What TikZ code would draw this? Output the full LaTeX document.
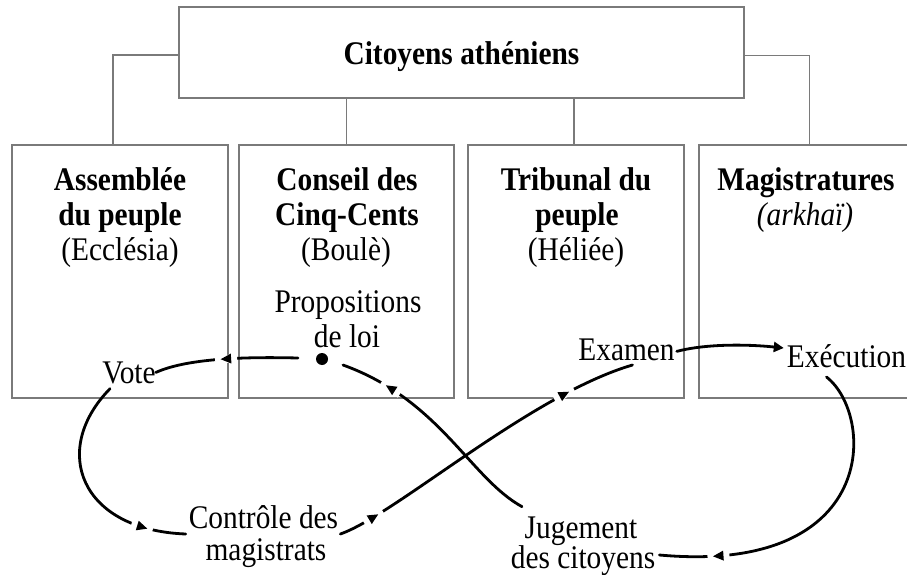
\documentclass[tikz,border=0pt]{standalone}
\usepackage{fontspec}
\setmainfont{Liberation Serif}[FakeStretch=0.89]
\usetikzlibrary{decorations.markings,arrows.meta}
\definecolor{boxgray}{HTML}{7A7A7A}
\begin{document}
\begin{tikzpicture}[x=1pt,y=-1pt,
  box/.style={draw=boxgray, line width=1.1pt, rectangle, inner sep=0pt},
  lbl/.style={anchor=base, inner sep=0pt, font=\fontsize{33}{36}\selectfont},
  blbl/.style={anchor=base, inner sep=0pt, font=\fontsize{33}{36}\selectfont\bfseries},
  ilbl/.style={anchor=base, inner sep=0pt, font=\fontsize{33}{36}\selectfont\itshape},
  link/.style={draw=boxgray, line width=1.1pt},
  flow/.style={line width=2.8pt, line cap=round},
  gaparrow/.style={postaction={decorate, decoration={markings, mark=at position #1 with {\fill[white] (-11pt,-4pt) rectangle (11pt,4pt); \fill[black] (5.5pt,0pt) -- (-5pt,5pt) -- (-5pt,-5pt) -- cycle;}}}}
]
\useasboundingbox (0,0) rectangle (907,575);
\fill[white] (0,0) rectangle (907,575);

% boxes
\node[box, minimum width=565pt, minimum height=91pt] (top) at (461.5,52.5) {};
\node[blbl] (ttl) at (461.5,65) {Citoyens athéniens};
\node[box, minimum width=216pt, minimum height=253pt] (b1) at (120,271.5) {};
\node[box, minimum width=215pt, minimum height=253pt] (b2) at (346.5,271.5) {};
\node[box, minimum width=216pt, minimum height=253pt] (b3) at (576,271.5) {};
\node[box, minimum width=221pt, minimum height=253pt] (b4) at (809.5,271.5) {};

% hierarchy links
\draw[link] ([yshift=-2.5pt]top.west) -| ([xshift=-7pt]b1.north);
\draw[link] ([yshift=-3pt]top.east) -| (b4.north);
\draw[link] (b2.north |- top.south) -- (b2.north);
\draw[link] ([xshift=-2pt]b3.north |- top.south) -- ([xshift=-2pt]b3.north);

% box texts
\node[blbl] (a1) at (120,190) {Assemblée};
\node[blbl] (a2) at (120,225) {du peuple};
\node[lbl]  (a3) at (120,260) {(Ecclésia)};
\node[blbl] (c1) at (347,190) {Conseil des};
\node[blbl] (c2) at (347,225) {Cinq-Cents};
\node[lbl]  (c3) at (346,260) {(Boulè)};
\node[lbl]  (p1) at (348,312) {Propositions};
\node[lbl]  (p2) at (347,347) {de loi};
\node[blbl] (t1) at (576,190) {Tribunal du};
\node[blbl] (t2) at (577,225) {peuple};
\node[lbl]  (t3) at (576,260) {(Héliée)};
\node[blbl] (m1) at (806,190) {Magistratures};
\node[ilbl] (m2) at (805,225) {(arkhaï)};

% cycle labels
\node[circle, fill=black, inner sep=0pt, minimum size=12pt] (dot) at (322,359) {};
\node[lbl] (vote) at (129,383) {Vote};
\node[lbl] (contr1) at (263.5,528) {Contrôle des};
\node[lbl] (contr2) at (266,560) {magistrats};
\node[lbl] (examen) at (626.5,360) {Examen};
\node[lbl] (exec) at (846.5,367) {Exécution};
\node[lbl] (jug1) at (581,538) {Jugement};
\node[lbl] (jug2) at (583,568) {des citoyens};

% cycle connectors
\draw[flow, gaparrow=0.5] ([xshift=-24pt,yshift=1pt]dot.center) .. controls (255,357) and (190,357) .. (vote.east);
\draw[flow, gaparrow=0.8] ([xshift=-19pt,yshift=-5pt]vote.south) .. controls (50,450) and (80,530) .. ([xshift=-3pt,yshift=-6pt]contr1.base west);
\draw[flow, gaparrow=0.11, gaparrow=0.78] ([xshift=2pt,yshift=-6pt]contr1.base east) .. controls (395,515) and (530,395) .. ([xshift=6pt,yshift=-5pt]examen.base);
\draw[flow, -{Triangle[length=10pt,width=10pt]}] ([xshift=2pt,yshift=-2pt]examen.east) .. controls (705,344) and (745,344) .. ([xshift=-3pt,yshift=19pt]exec.base west);
\draw[flow, gaparrow=0.82] ([xshift=-20pt,yshift=-10pt]exec.base) .. controls (875,415) and (880,575) .. ([xshift=4pt,yshift=13pt]jug2.base east);
\draw[flow, gaparrow=0.77] ([xshift=-2.5pt,yshift=9.5pt]jug1.north west) .. controls (470,478) and (440,400) .. ([xshift=21pt,yshift=-6pt]dot.center);
\end{tikzpicture}
\end{document}
